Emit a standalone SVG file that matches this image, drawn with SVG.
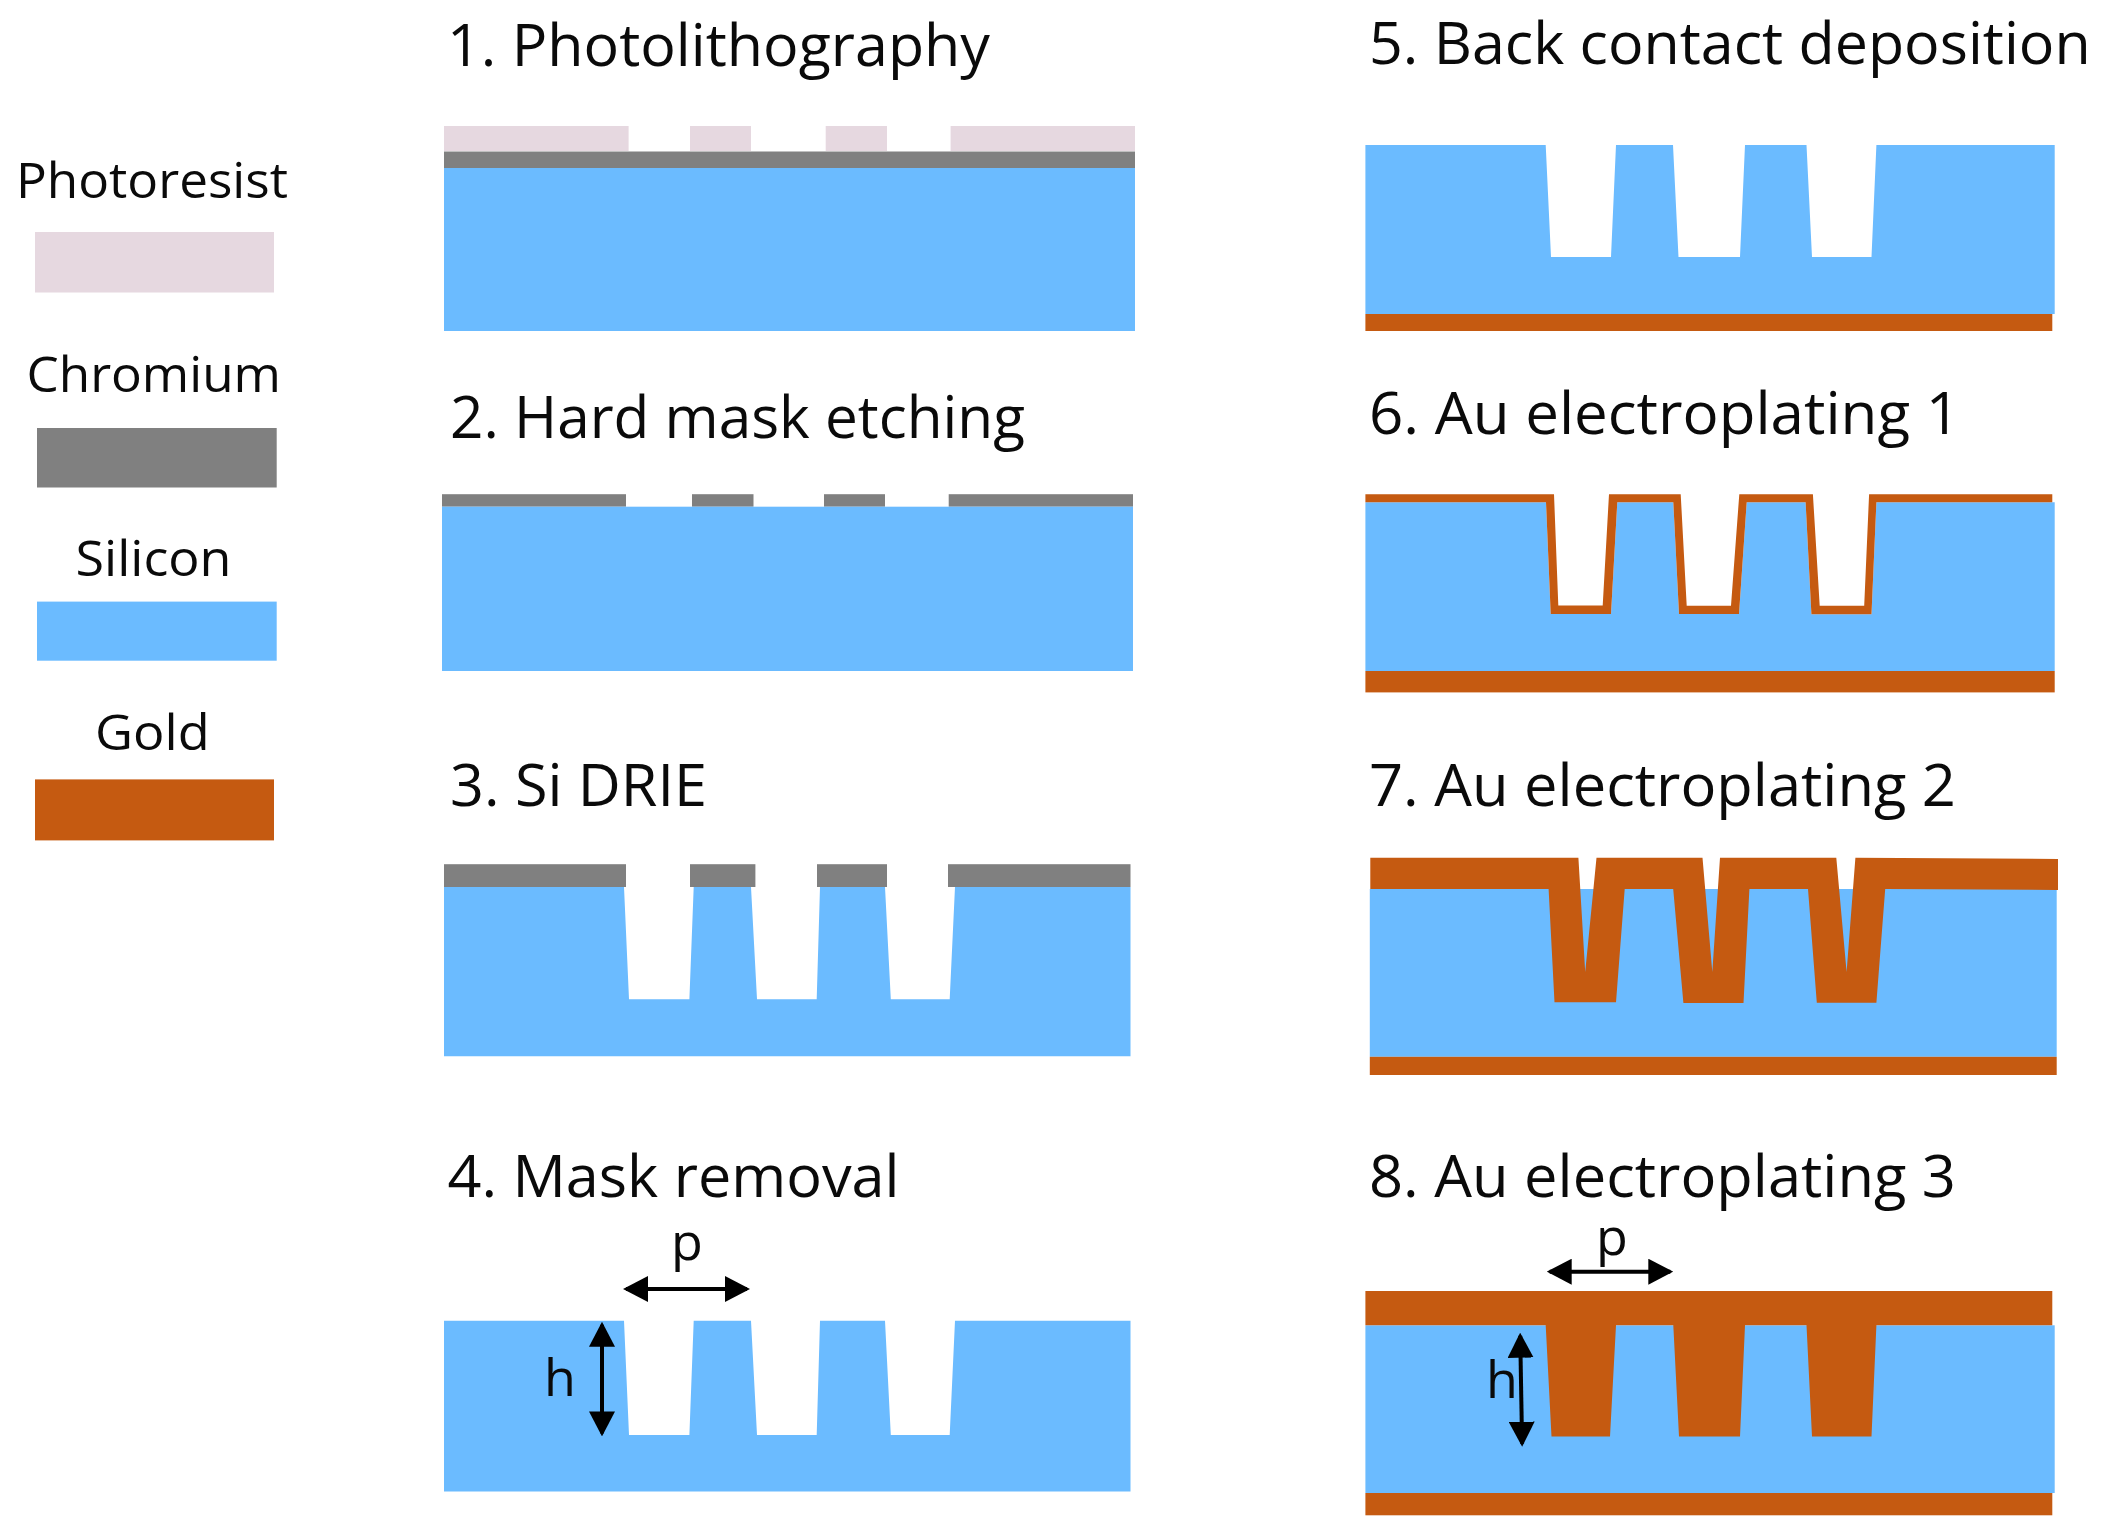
<svg xmlns="http://www.w3.org/2000/svg" width="2106" height="1538" viewBox="0 0 2106 1538">
<style>
text{font-family:"Open Sans","Noto Sans","Liberation Sans",sans-serif;fill:#0a0a0a}
.h{font-size:58px}
.l{font-size:50px}
.d{font-size:52px}
.pr{fill:#e6d8e0}
.cr{fill:#808080}
.si{fill:#6bbbff}
.au{fill:#c55a11}
.dim{stroke:#000;stroke-width:4;fill:none;marker-start:url(#a);marker-end:url(#a)}
</style>
<defs>
<marker id="a" markerUnits="userSpaceOnUse" markerWidth="25" markerHeight="26" refX="22" refY="13" orient="auto-start-reverse"><path d="M0 0L25 13L0 26Z" fill="#000"/></marker>
</defs>
<rect width="2106" height="1538" fill="#fff"/>
<g id="legend">
<text class="l" x="16" y="197.5" textLength="272" lengthAdjust="spacingAndGlyphs">Photoresist</text>
<rect class="pr" x="35" y="232" width="239" height="60.500"/>
<text class="l" x="26.500" y="391.600" textLength="254.500" lengthAdjust="spacingAndGlyphs">Chromium</text>
<rect class="cr" x="37" y="428" width="239.700" height="59.500"/>
<text class="l" x="75.500" y="575.500" textLength="156" lengthAdjust="spacingAndGlyphs">Silicon</text>
<rect class="si" x="37" y="601.600" width="239.700" height="59.100"/>
<text class="l" x="95" y="750" textLength="114.700" lengthAdjust="spacingAndGlyphs">Gold</text>
<rect class="au" x="35" y="779.400" width="239" height="61"/>
</g>
<g id="step1">
<text class="h" x="447" y="66" textLength="543" lengthAdjust="spacingAndGlyphs">1. Photolithography</text>
<rect class="pr" x="444" y="126" width="184.600" height="25"/>
<rect class="pr" x="690" y="126" width="61" height="25"/>
<rect class="pr" x="825.700" y="126" width="61.300" height="25"/>
<rect class="pr" x="950.600" y="126" width="184.400" height="25"/>
<rect class="cr" x="444" y="151.500" width="691" height="16.500"/>
<rect class="si" x="444" y="168" width="691" height="163"/>
</g>
<g id="step2">
<text class="h" x="450" y="438.400" textLength="575" lengthAdjust="spacingAndGlyphs">2. Hard mask etching</text>
<rect class="cr" x="442" y="494.200" width="184" height="12.500"/>
<rect class="cr" x="692" y="494.200" width="61.500" height="12.500"/>
<rect class="cr" x="824" y="494.200" width="61" height="12.500"/>
<rect class="cr" x="948.700" y="494.200" width="184.300" height="12.500"/>
<rect class="si" x="442" y="506.700" width="691" height="164.300"/>
</g>
<g id="step3">
<text class="h" x="450" y="806" textLength="257" lengthAdjust="spacingAndGlyphs">3. Si DRIE</text>
<polygon class="si" points="444,887 624,887 629,999.200 689.400,999.200 693.700,887 751,887 757,999.200 816.700,999.200 820,887 885,887 890.800,999.200 949.700,999.200 955,887 1130.500,887 1130.500,1056.300 444,1056.300"/>
<rect class="cr" x="444" y="864.200" width="182" height="22.800"/>
<rect class="cr" x="690" y="864.200" width="65.400" height="22.800"/>
<rect class="cr" x="817" y="864.200" width="70" height="22.800"/>
<rect class="cr" x="948" y="864.200" width="182.500" height="22.800"/>
</g>
<g id="step4">
<text class="h" x="447.500" y="1196.700" textLength="452" lengthAdjust="spacingAndGlyphs">4. Mask removal</text>
<polygon class="si" points="444,1320.800 624,1320.800 629,1435 689.400,1435 693.700,1320.800 751,1320.800 757,1435 816.700,1435 820,1320.800 885,1320.800 890.800,1435 949.700,1435 955,1320.800 1130.500,1320.800 1130.500,1491.500 444,1491.500"/>
<text class="d" x="687" y="1260" text-anchor="middle">p</text>
<text class="d" x="560" y="1396" text-anchor="middle">h</text>
<line class="dim" x1="626" y1="1289" x2="747" y2="1289"/>
<line class="dim" x1="602" y1="1324.800" x2="602" y2="1433.400"/>
</g>
<g id="step5">
<text class="h" x="1369" y="63.800" textLength="721.700" lengthAdjust="spacingAndGlyphs">5. Back contact deposition</text>
<polygon class="si" points="1365.400,145 1545.700,145 1551,257 1611,257 1616,145 1673,145 1678.500,257 1740,257 1745,145 1806.500,145 1812,257 1871.500,257 1876.400,145 2054.700,145 2054.700,314 1365.400,314"/>
<rect class="au" x="1365.400" y="314" width="686.900" height="17"/>
</g>
<g id="step6">
<text class="h" x="1369" y="434" textLength="591" lengthAdjust="spacingAndGlyphs">6. Au electroplating 1</text>
<polygon class="si" points="1365.400,502.200 1546,502.200 1550.700,614 1611,614 1617.300,502.200 1673.300,502.200 1679,614 1739,614 1746.700,502.200 1805.600,502.200 1811.400,614.300 1871.500,614.300 1876.400,502.200 2054.700,502.200 2054.700,671 1365.400,671"/>
<polygon class="au" points="1365.400,494.200 1554,494.200 1558.300,605.400 1602.700,605.400 1609,494.200 1680.700,494.200 1686.700,605.700 1731,605.700 1739.300,494.200 1812.900,494.200 1819.700,605.700 1864.200,605.700 1869.100,494.200 2052.300,494.200 2052.300,502.200 1876.400,502.200 1871.500,614.300 1811.400,614.300 1805.600,502.200 1746.700,502.200 1739,614 1679,614 1673.300,502.200 1617.300,502.200 1611,614 1550.700,614 1546,502.200 1365.400,502.200"/>
<rect class="au" x="1365.400" y="671" width="689.300" height="21.400"/>
</g>
<g id="step7">
<text class="h" x="1369" y="806" textLength="587" lengthAdjust="spacingAndGlyphs">7. Au electroplating 2</text>
<rect class="si" x="1369.800" y="889" width="686.900" height="167.800"/>
<polygon class="au" points="1370.300,857.800 1578.400,857.800 1585.200,971.900 1596.500,857.800 1702.500,857.800 1712.300,971.900 1720,857.800 1836.300,857.800 1846.600,971.900 1855.400,857.800 2058,859 2058,890 1885.200,889 1876.400,1002.700 1816.800,1002.700 1808,889 1749.400,889 1743.500,1003 1683.400,1003 1673.200,889 1624.700,889 1616,1002.300 1554.500,1002.300 1548.600,889 1370.300,889"/>
<rect class="au" x="1369.800" y="1056.800" width="686.900" height="18.200"/>
</g>
<g id="step8">
<text class="h" x="1369" y="1196.700" textLength="587" lengthAdjust="spacingAndGlyphs">8. Au electroplating 3</text>
<text class="d" x="1612" y="1254.500" text-anchor="middle">p</text>
<rect class="si" x="1365.400" y="1325.300" width="689.300" height="167.700"/>
<polygon class="au" points="1365.400,1291 2052.300,1291 2052.300,1325.300 1876.400,1325.300 1871.500,1436.400 1812,1436.400 1806.500,1325.300 1745,1325.300 1740,1436.400 1679,1436.400 1673.300,1325.300 1616,1325.300 1610,1436.400 1551.500,1436.400 1545.700,1325.300 1365.400,1325.300"/>
<rect class="au" x="1365.400" y="1493" width="686.900" height="22.300"/>
<text class="d" x="1502" y="1398" text-anchor="middle">h</text>
<line class="dim" x1="1549.700" y1="1271.700" x2="1670.300" y2="1271.700"/>
<line class="dim" x1="1520.200" y1="1335.700" x2="1522.100" y2="1443.700"/>
</g>
</svg>
